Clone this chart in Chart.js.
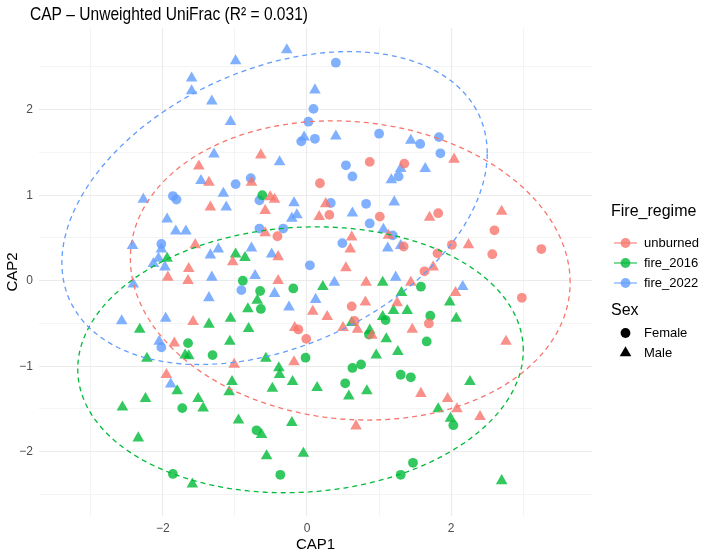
<!DOCTYPE html>
<html>
<head>
<meta charset="utf-8">
<script src="https://cdn.jsdelivr.net/npm/chart.js@4.4.1/dist/chart.umd.min.js"></script>
<style>
  html, body { margin: 0; padding: 0; background: #fff; }
</style>
</head>
<body>
<canvas id="chart" width="709" height="555"></canvas>
<script>
// Groups and colours
const regimes = ['unburned', 'fire_2016', 'fire_2022'];
const regimeColours = ['#F8766D', '#00BA38', '#619CFF'];
const regimeFills = ['rgba(248,118,109,0.8)', 'rgba(0,186,56,0.8)', 'rgba(97,156,255,0.8)'];
const sexes = ['Female', 'Male'];

// CAP1 / CAP2 scores, [x, y]
const unburnedFemale = [[-0.41,0.52],[-0.12,-0.57],[-0.01,-0.68],[0.62,-0.30],[2.98,-0.20],[0.66,-0.47],[1.69,-0.50],
  [0.87,1.39],[1.35,1.37],[0.18,1.14],[0.31,0.77],[1.01,0.75],[1.82,0.79],[2.60,0.59],[1.34,0.40],[2.01,0.42],
  [1.81,0.32],[2.57,0.31],[3.25,0.37],[1.63,0.11]];
const unburnedMale = [[-0.64,1.47],[-1.50,1.34],[-1.36,1.15],[-0.77,1.15],[-0.51,0.98],[-0.45,0.95],[-1.34,0.86],
  [-0.58,0.82],[-0.58,0.56],[-1.55,0.42],[-1.03,0.22],[-0.40,0.28],[-1.64,0.14],[-1.93,0.04],[-1.65,0.00],[-0.40,0.00],
  [-1.58,-0.48],[-0.17,-0.55],[-1.84,-0.73],[-1.01,-0.98],[-0.18,-0.95],[-1.95,-1.10],[0.68,-1.70],[2.08,-1.50],
  [2.40,-1.59],[0.82,-0.02],[1.44,-0.02],[0.81,-0.25],[1.25,-0.26],[2.06,-0.14],[0.08,-0.36],[0.28,-0.42],[0.50,-0.55],
  [0.70,-0.57],[0.90,-0.64],[1.46,-0.57],[2.76,-0.71],[1.58,-1.32],[1.95,-1.38],[2.04,1.42],[0.26,0.90],[0.17,0.75],
  [1.70,0.74],[2.70,0.81],[1.13,0.53],[0.62,0.51],[0.60,0.37],[2.24,0.42],[0.54,0.15],[1.75,0.16]];
const fire2016Female = [[-0.62,1.00],[-0.89,0.00],[-0.65,-0.12],[-0.19,-0.09],[-0.64,-0.33],[-1.65,-0.73],[-1.31,-0.87],
  [-0.02,-0.90],[-1.73,-1.49],[-0.70,-1.75],[-1.86,-2.26],[-0.37,-2.27],[2.03,-1.69],[1.47,-2.13],[1.30,-2.27],
  [1.58,-0.07],[1.71,-0.41],[1.09,-0.46],[0.86,-0.63],[1.66,-0.71],[0.63,-1.02],[0.75,-0.98],[1.30,-1.10],[1.44,-1.13],
  [0.53,-1.20]];
const fire2016Male = [[-0.99,0.31],[-0.86,0.27],[-1.94,0.26],[-0.69,-0.23],[-0.82,-0.33],[-1.36,-0.51],[-1.06,-0.44],
  [-0.81,-0.56],[-2.32,-0.57],[-1.07,-0.71],[-1.69,-0.87],[-1.64,-0.88],[-2.22,-0.91],[-0.57,-0.91],[-0.39,-1.02],
  [-0.38,-1.10],[-1.80,-1.29],[-1.04,-1.18],[-1.08,-1.30],[-0.20,-1.18],[-0.48,-1.26],[-2.24,-1.38],[-1.51,-1.38],
  [-2.56,-1.48],[-1.44,-1.49],[-0.95,-1.63],[-0.63,-1.80],[-0.21,-1.66],[-2.34,-1.84],[-0.56,-2.05],[-0.05,-2.02],
  [-1.59,-2.38],[1.82,-1.50],[1.99,-1.61],[2.70,-2.34],[0.22,-0.07],[1.05,-0.02],[1.31,-0.14],[1.98,-0.25],[1.20,-0.35],
  [1.39,-0.35],[1.05,-0.42],[2.07,-0.44],[0.62,-0.49],[0.87,-0.58],[1.10,-0.68],[0.96,-0.87],[1.26,-0.83],[0.14,-1.25],
  [0.58,-1.35],[0.83,-1.29],[2.26,-1.18]];
const fire2022Female = [[-0.08,1.63],[0.02,1.86],[0.40,2.55],[0.09,2.01],[0.11,1.66],[1.00,1.72],[1.57,1.60],[1.83,1.68],
  [1.85,1.49],[-0.99,1.13],[-0.78,1.20],[-1.86,0.99],[-1.81,0.95],[-0.66,0.94],[-0.66,0.61],[-0.33,0.61],[-2.02,0.43],
  [0.04,0.18],[-0.91,-0.11],[-2.02,-0.78],[0.54,1.35],[0.63,1.22],[1.27,1.22],[0.33,0.91],[0.82,0.90],[0.87,0.67],
  [1.19,0.53],[0.49,0.44]];
const fire2022Male = [[-1.60,2.37],[-1.60,2.22],[-1.32,2.10],[-0.99,2.57],[-0.28,2.70],[-1.06,1.86],[-0.04,1.68],
  [-1.29,1.48],[0.11,2.23],[0.40,1.69],[1.44,1.64],[-0.38,1.39],[-1.47,1.17],[-1.16,1.02],[-2.27,0.95],[-1.12,0.86],
  [-0.18,0.91],[-0.14,0.77],[-0.21,0.73],[-1.94,0.72],[-1.82,0.58],[-1.68,0.58],[-2.42,0.41],[-2.02,0.37],[-1.23,0.37],
  [-1.34,0.30],[-0.77,0.38],[-0.49,0.31],[-2.06,0.26],[-2.13,0.20],[-1.97,0.16],[-1.32,0.04],[-0.72,0.06],[-2.41,-0.04],
  [-0.45,-0.15],[-1.36,-0.20],[-0.25,-0.31],[-2.57,-0.47],[-1.96,-0.44],[-2.05,-0.71],[-1.89,-1.21],[0.38,-0.02],
  [1.23,0.04],[0.12,-0.22],[2.16,-0.07],[1.30,1.31],[1.17,1.18],[1.64,1.31],[0.63,0.79],[1.21,0.92],[1.06,0.60],
  [1.12,0.38],[1.30,0.41]];

// 95% ellipses per regime (centre, half extents, correlation)
const ellipseCentreX = [0.60, -0.09, -0.45];
const ellipseCentreY = [0.12, -0.925, 0.85];
const ellipseHalfX = [3.05, 3.09, 2.95];
const ellipseHalfY = [1.75, 1.555, 1.83];
const ellipseCorr = [-0.08, 0.07, 0.35];

// Axis ticks
const xGridValues = [-3, -2, -1, 0, 1, 2, 3];
const xLabelValues = [-2, 0, 2];
const yGridValues = [-2.5, -2, -1.5, -1, -0.5, 0, 0.5, 1, 1.5, 2, 2.5];
const yLabelValues = [-2, -1, 0, 1, 2];

const groups = [
  [unburnedFemale, unburnedMale],
  [fire2016Female, fire2016Male],
  [fire2022Female, fire2022Male]
];

const font_family = '"Liberation Sans", Arial, Helvetica, sans-serif';
const grid_color = '#EBEBEB';

function minus(v) {
  return v < 0 ? '\u2212' + Math.abs(v) : String(v);
}

const datasets = [];
groups.forEach((pair, i) => {
  pair.forEach((points, s) => {
    datasets.push({
      label: regimes[i] + ' ' + sexes[s],
      data: points.map(p => ({ x: p[0], y: p[1] })),
      pointStyle: s === 0 ? 'circle' : 'triangle',
      pointRadius: s === 0 ? 4.9 : 6.7,
      pointBackgroundColor: regimeFills[i],
      pointBorderWidth: 0,
      pointBorderColor: 'rgba(0,0,0,0)'
    });
  });
});

// ellipses, title and legend
const decor = {
  id: 'decor',
  afterDatasetsDraw(chart) {
    const { ctx, chartArea: a, scales: { x, y } } = chart;
    ctx.save();
    ctx.beginPath();
    ctx.rect(a.left, a.top, a.right - a.left, a.bottom - a.top);
    ctx.clip();
    ctx.setLineDash([5, 4]);
    ctx.lineWidth = 1.3;
    regimes.forEach((name, i) => {
      const r = ellipseCorr[i];
      ctx.strokeStyle = regimeColours[i];
      ctx.beginPath();
      for (let k = 0; k <= 160; k++) {
        const t = k / 160 * Math.PI * 2;
        const vx = ellipseCentreX[i] + ellipseHalfX[i] * Math.cos(t);
        const vy = ellipseCentreY[i] + ellipseHalfY[i] * (r * Math.cos(t) + Math.sqrt(1 - r * r) * Math.sin(t));
        const px = x.getPixelForValue(vx), py = y.getPixelForValue(vy);
        if (k === 0) ctx.moveTo(px, py); else ctx.lineTo(px, py);
      }
      ctx.stroke();
    });
    ctx.restore();
  },
  afterDraw(chart) {
    const ctx = chart.ctx;
    ctx.save();
    // plot title, narrow face
    const title = 'CAP \u2013 Unweighted UniFrac (R\u00B2 = 0.031)';
    ctx.font = '19px ' + font_family;
    ctx.fillStyle = '#000';
    ctx.textBaseline = 'alphabetic';
    ctx.textAlign = 'left';
    const w = ctx.measureText(title).width;
    ctx.translate(30, 20);
    ctx.scale(278 / w, 1);
    ctx.fillText(title, 0, 0);
    ctx.restore();

    // legend
    ctx.save();
    ctx.textBaseline = 'middle';
    ctx.textAlign = 'left';
    ctx.fillStyle = '#000';
    ctx.font = '16px ' + font_family;
    ctx.fillText('Fire_regime', 611, 212);
    ctx.font = '13px ' + font_family;
    regimes.forEach((name, i) => {
      const cy = 243 + i * 20;
      ctx.strokeStyle = regimeColours[i];
      ctx.globalAlpha = 0.8;
      ctx.lineWidth = 1.3;
      ctx.beginPath();
      ctx.moveTo(614, cy);
      ctx.lineTo(637, cy);
      ctx.stroke();
      ctx.fillStyle = regimeColours[i];
      ctx.beginPath();
      ctx.arc(625.5, cy, 4.9, 0, Math.PI * 2);
      ctx.fill();
      ctx.globalAlpha = 1;
      ctx.fillStyle = '#000';
      ctx.fillText(name, 644, cy);
    });
    ctx.font = '16px ' + font_family;
    ctx.fillText('Sex', 611, 311);
    ctx.font = '13px ' + font_family;
    sexes.forEach((name, s) => {
      const cy = 333 + s * 20;
      ctx.fillStyle = '#000';
      ctx.beginPath();
      if (s === 0) {
        ctx.arc(625.5, cy, 4.9, 0, Math.PI * 2);
      } else {
        const r = 6.7;
        ctx.moveTo(625.5, cy - r);
        ctx.lineTo(625.5 + r * 0.866, cy + r / 2);
        ctx.lineTo(625.5 - r * 0.866, cy + r / 2);
        ctx.closePath();
      }
      ctx.fill();
      ctx.fillText(name, 644, cy);
    });
    ctx.restore();
  }
};

function majorOf(list) {
  return ctx => list.includes(ctx.tick.value);
}

const options = {
  responsive: false,
  animation: false,
  events: [],
  devicePixelRatio: 1,
  layout: { padding: { top: 28, right: 117, bottom: 0, left: 0 } },
  plugins: { legend: { display: false }, tooltip: { enabled: false }, title: { display: false } },
  scales: {
    x: {
      type: 'linear',
      min: -3.717,
      max: 3.953,
      afterBuildTicks: scale => { scale.ticks = xGridValues.map(v => ({ value: v })); },
      afterFit: scale => { scale.height = 39; },
      border: { display: false },
      grid: {
        color: grid_color,
        drawTicks: false,
        lineWidth: ctx => majorOf(xLabelValues)(ctx) ? 1.1 : 0.55
      },
      ticks: {
        padding: 5,
        color: '#4D4D4D',
        font: { family: font_family, size: 12 },
        maxRotation: 0,
        autoSkip: false,
        callback: v => xLabelValues.includes(v) ? minus(v) : ''
      },
      title: {
        display: true,
        text: 'CAP1',
        color: '#000',
        font: { family: font_family, size: 15 },
        padding: { top: 0, bottom: 1 }
      }
    },
    y: {
      type: 'linear',
      min: -2.752,
      max: 2.956,
      afterBuildTicks: scale => { scale.ticks = yGridValues.map(v => ({ value: v })); },
      afterFit: scale => { scale.width = 39; },
      border: { display: false },
      grid: {
        color: grid_color,
        drawTicks: false,
        lineWidth: ctx => majorOf(yLabelValues)(ctx) ? 1.1 : 0.55
      },
      ticks: {
        padding: 6,
        color: '#4D4D4D',
        font: { family: font_family, size: 12 },
        autoSkip: false,
        callback: v => yLabelValues.includes(v) ? minus(v) : ''
      },
      title: {
        display: true,
        text: 'CAP2',
        color: '#000',
        font: { family: font_family, size: 15 },
        padding: { top: 4, bottom: 0 }
      }
    }
  }
};

const chart = new Chart(document.getElementById('chart'), {
  type: 'scatter',
  data: { datasets: datasets },
  options: options,
  plugins: [decor]
});
</script>
</body>
</html>
